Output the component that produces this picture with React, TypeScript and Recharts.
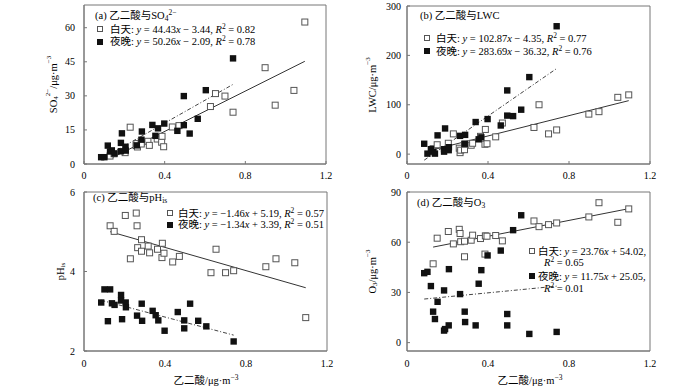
import React from 'react';
import { ScatterChart, Scatter, XAxis, YAxis, ReferenceLine, ReferenceArea } from 'recharts';

const FONT = '"Liberation Serif", "Times New Roman", "Noto Sans CJK SC", serif';

// 乙二酸 concentration (x), daytime and night-time samples
const dayX = [0.129, 0.149, 0.204, 0.229, 0.258, 0.262, 0.265, 0.284, 0.284, 0.317, 0.324, 0.363, 0.385, 0.387, 0.395, 0.438, 0.471, 0.627, 0.652, 0.699, 0.739, 0.898, 0.948, 1.041, 1.095];
const nightX = [0.085, 0.101, 0.118, 0.129, 0.138, 0.151, 0.183, 0.183, 0.188, 0.206, 0.207, 0.262, 0.285, 0.287, 0.339, 0.354, 0.367, 0.398, 0.463, 0.495, 0.495, 0.524, 0.564, 0.604, 0.739];

// (a) SO4 2-
const daySO4 = [3.5, 4.5, 5.0, 16.2, 8.1, 9.0, 7.5, 9.5, 8.8, 10.0, 8.2, 11.0, 9.6, 12.2, 7.6, 16.3, 16.9, 25.3, 31.0, 29.9, 22.8, 42.4, 25.9, 32.4, 62.5];
const nightSO4 = [3.0, 3.0, 8.1, 5.5, 6.0, 4.6, 9.3, 5.6, 13.5, 7.6, 5.9, 8.2, 10.7, 14.3, 17.2, 12.4, 15.7, 17.8, 14.6, 29.9, 17.1, 13.4, 19.9, 32.5, 46.5];
// (b) LWC
const dayLWC = [11, 19, 22, 41, 12, 3, 8, 9, 20, 18, 22, 36, 20, 50, 21, 35, 63, 54, 100, 41, 49, 81, 86, 115, 120];
const nightLWC = [21, 1, 10, 5, 1, 38, 10, 5, 52, 8, 14, 37, 21, 39, 65, 30, 34, 71, 58, 129, 78, 77, 90, 156, 259];
// (c) pHis
const dayPH = [5.15, 5.01, 5.41, 4.32, 5.47, 5.15, 4.6, 4.8, 4.51, 4.64, 4.47, 4.56, 4.35, 4.71, 4.46, 4.24, 4.38, 3.97, 4.56, 3.97, 4.02, 4.12, 4.32, 4.22, 2.84];
const nightPH = [3.22, 3.55, 2.75, 3.55, 3.2, 3.16, 3.41, 3.27, 2.8, 3.22, 3.1, 2.89, 3.19, 2.76, 3.01, 2.9, 2.77, 2.51, 2.98, 2.77, 2.57, 3.19, 2.76, 2.62, 2.24];
// (d) O3
const dayO3 = [47.1, 62.4, 66.4, 59.0, 67.7, 65.2, 60.3, 60.6, 51.3, 61.2, 64.2, 62.2, 52.9, 63.8, 63.6, 64.0, 60.8, 72.7, 69.3, 70.5, 71.5, 75.1, 83.6, 71.9, 79.9];
const nightO3 = [41.5, 42.3, 33.8, 18.5, 14.1, 24.4, 31.2, 7.2, 8.1, 10.3, 43.9, 29.0, 18.5, 12.3, 10.3, 35.2, 43.3, 52.1, 55.0, 17.1, 10.3, 67.2, 76.1, 5.2, 6.4];

// fitted lines [slope, intercept, R2] for day / night
const dayFits = [[44.43, -3.44, 0.82], [102.87, -4.35, 0.77], [-1.46, 5.19, 0.57], [23.76, 54.02, 0.65]];
const nightFits = [[50.26, -2.09, 0.78], [283.69, -36.32, 0.76], [-1.34, 3.39, 0.51], [11.75, 25.05, 0.01]];

const xTicks = [0, 0.4, 0.8, 1.2];
const yTicksA = [0, 15, 30, 45, 60];
const yTicksB = [0, 100, 200, 300];
const yTicksC = [2, 4, 6];
const yTicksD = [0, 30, 60, 90];

const toPoints = (xs: number[], ys: number[]) => xs.map((x, i) => ({ x, y: ys[i] }));

const fitSegment = (xs: number[], fit: number[]) => {
  const x0 = Math.min(...xs);
  const x1 = Math.max(...xs);
  return [
    { x: x0, y: fit[0] * x0 + fit[1] },
    { x: x1, y: fit[0] * x1 + fit[1] },
  ];
};

const fmtX = (v: number) => (v === 0 ? '0' : v.toFixed(1));

const OpenSquare = (p: any) => (
  <rect x={p.cx - 3} y={p.cy - 3} width={6} height={6} fill="#fff" stroke="#555" strokeWidth={1} />
);
const FilledSquare = (p: any) => (
  <rect x={p.cx - 3.2} y={p.cy - 3.2} width={6.4} height={6.4} fill="#111" />
);

const XTick = (p: any) => (
  <text x={p.x} y={p.y} dy="0.71em" textAnchor="middle" fontSize={10} fontFamily={FONT} fill="#000">
    {fmtX(Number(p.payload.value))}
  </text>
);
const YTick = (p: any) => (
  <text x={p.x} y={p.y} dy="0.355em" textAnchor="end" fontSize={10} fontFamily={FONT} fill="#000">
    {p.payload.value}
  </text>
);

const sub = (t: string) => (
  <span style={{ fontSize: 7.5, position: 'relative', top: 2.5 }}>{t}</span>
);
const sup = (t: string) => (
  <span style={{ fontSize: 7.5, position: 'relative', top: -4 }}>{t}</span>
);

const fmt = (n: number) => n.toFixed(2);
const eq = (fit: number[]) => {
  const slope = fit[0] < 0 ? '\u2212' + fmt(-fit[0]) : fmt(fit[0]);
  const sign = fit[1] < 0 ? '\u2212' : '+';
  return (
    <>
      <i>y</i> = {slope}<i>x</i> {sign} {fmt(Math.abs(fit[1]))}
    </>
  );
};
const r2 = (fit: number[]) => (
  <>
    <i>R</i>{sup('2')} = {fmt(fit[2])}
  </>
);

type PanelProps = {
  left: number;
  top: number;
  width: number;
  height: number;
  margin: { top: number; right: number; bottom: number; left: number };
  yDomain: [number, number];
  yTicks: number[];
  yGap: number;
  day: number[];
  night: number[];
  idx: number;
  yLabel: React.ReactNode;
  yLabelX: number;
  htmlXTicks?: boolean;
};

const Panel = (p: PanelProps) => {
  return (
    <div style={{ position: 'absolute', left: p.left, top: p.top, width: p.width, height: p.height, zIndex: 0 }}>
      <ScatterChart width={p.width} height={p.height} margin={p.margin}>
        <XAxis
          type="number"
          dataKey="x"
          domain={[0, 1.2]}
          ticks={xTicks}
          interval={0}
          allowDataOverflow
          height={20}
          tick={p.htmlXTicks ? false : XTick}
          tickSize={-3}
          tickMargin={11}
          tickLine={{ stroke: '#777' }}
          axisLine={{ stroke: '#777' }}
        />
        <YAxis
          type="number"
          dataKey="y"
          domain={p.yDomain}
          ticks={p.yTicks}
          interval={0}
          allowDataOverflow
          width={30}
          tickSize={-3}
          tickMargin={3 + p.yGap}
          tick={YTick}
          tickLine={{ stroke: '#777' }}
          axisLine={{ stroke: '#777' }}
          label={{
            content: (lp: any) => {
              const vb = lp.viewBox;
              const cy = vb.y + vb.height / 2;
              return (
                <text
                  x={p.yLabelX}
                  y={cy}
                  transform={`rotate(-90 ${p.yLabelX} ${cy})`}
                  textAnchor="middle"
                  dominantBaseline="central"
                  fontSize={10.5}
                  fontFamily={FONT}
                  fill="#000"
                >
                  {p.yLabel}
                </text>
              );
            },
          }}
        />
        <ReferenceArea x1={0} x2={1.2} y1={p.yDomain[0]} y2={p.yDomain[1]} fill="none" stroke="#777" strokeWidth={1} />
        <ReferenceLine segment={fitSegment(nightX, nightFits[p.idx])} stroke="#444" strokeWidth={1} strokeDasharray="4 2 1 2" />
        <ReferenceLine segment={fitSegment(dayX, dayFits[p.idx])} stroke="#333" strokeWidth={1} />
        <Scatter data={toPoints(dayX, p.day)} shape={OpenSquare} isAnimationActive={false} />
        <Scatter data={toPoints(nightX, p.night)} shape={FilledSquare} isAnimationActive={false} />
      </ScatterChart>
    </div>
  );
};

const textStyle: React.CSSProperties = {
  position: 'absolute',
  fontFamily: FONT,
  fontSize: 10.5,
  color: '#000',
  whiteSpace: 'nowrap',
  lineHeight: '11px',
  height: 11,
  zIndex: 2,
};

const Row = ({ x, cy, children, center, size }: { x: number; cy: number; children: React.ReactNode; center?: boolean; size?: number }) => (
  <div
    style={{
      ...textStyle,
      fontSize: size ?? 10.5,
      left: x,
      top: cy - 5.5,
      transform: center ? 'translateX(-50%)' : undefined,
    }}
  >
    {children}
  </div>
);

const Box = ({ x, cy, filled }: { x: number; cy: number; filled?: boolean }) => (
  <div
    style={{
      position: 'absolute',
      left: x - 3,
      top: cy - 3,
      width: 6,
      height: 6,
      zIndex: 2,
      boxSizing: 'border-box',
      border: filled ? 'none' : '1px solid #555',
      background: filled ? '#111' : '#fff',
    }}
  />
);

// x tick labels of the lower row, laid along the plot width of each panel
const BottomTicks = ({ x0, x1 }: { x0: number; x1: number }) => (
  <>
    {xTicks.map((v) => (
      <Row key={v} x={x0 + (v / 1.2) * (x1 - x0)} cy={363} center size={10}>
        {fmtX(v)}
      </Row>
    ))}
  </>
);

const App = () => {
  return (
    <div style={{ position: 'relative', width: 700, height: 387, background: '#fff', overflow: 'hidden' }}>
      <style>{'body{margin:0}'}</style>

      <Panel
        left={0} top={0} width={350} height={185}
        margin={{ top: 5, right: 24, bottom: 1, left: 54 }}
        yDomain={[0, 70]} yTicks={yTicksA} yGap={9}
        day={daySO4} night={nightSO4} idx={0}
        yLabelX={53}
        yLabel={<>SO<tspan fontSize={7} dy={3}>4</tspan><tspan fontSize={7} dy={-8}>2−</tspan><tspan dy={5}>/μg·m</tspan><tspan fontSize={7} dy={-4}>−3</tspan></>}
      />
      <Panel
        left={350} top={0} width={350} height={185}
        margin={{ top: 6, right: 50, bottom: 1, left: 27 }}
        yDomain={[-20, 300]} yTicks={yTicksB} yGap={6}
        day={dayLWC} night={nightLWC} idx={1}
        yLabelX={22}
        yLabel={<>LWC/μg·m<tspan fontSize={7} dy={-4}>−3</tspan></>}
      />
      <Panel
        left={0} top={185} width={350} height={187}
        margin={{ top: 7, right: 23, bottom: 1, left: 54 }}
        yDomain={[2, 6]} yTicks={yTicksC} yGap={9}
        day={dayPH} night={nightPH} idx={2}
        yLabelX={60}
        yLabel={<>pH<tspan fontSize={7} dy={3}>is</tspan></>}
        htmlXTicks
      />
      <Panel
        left={350} top={185} width={350} height={187}
        margin={{ top: 7, right: 50, bottom: 1, left: 27 }}
        yDomain={[-5, 90]} yTicks={yTicksD} yGap={6}
        day={dayO3} night={nightO3} idx={3}
        yLabelX={22}
        yLabel={<>O<tspan fontSize={7} dy={3}>3</tspan><tspan dy={-3}>/μg·m</tspan><tspan fontSize={7} dy={-4}>−3</tspan></>}
        htmlXTicks
      />

      {/* lower row x ticks and titles */}
      <BottomTicks x0={84} x1={327} />
      <BottomTicks x0={407} x1={650} />
      <Row x={206} cy={380} center>乙二酸/μg·m{sup('−3')}</Row>
      <Row x={530} cy={380} center>乙二酸/μg·m{sup('−3')}</Row>

      {/* (a) */}
      <Row x={95} cy={15}>(a) 乙二酸与SO{sub('4')}{sup('2−')}</Row>
      <Box x={100} cy={29} />
      <Row x={110} cy={29}>白天: {eq(dayFits[0])}, {r2(dayFits[0])}</Row>
      <Box x={100} cy={41.5} filled />
      <Row x={110} cy={41.5}>夜晚: {eq(nightFits[0])}, {r2(nightFits[0])}</Row>

      {/* (b) */}
      <Row x={420} cy={15}>(b) 乙二酸与LWC</Row>
      <Box x={427} cy={38} />
      <Row x={436} cy={38}>白天: {eq(dayFits[1])}, {r2(dayFits[1])}</Row>
      <Box x={427} cy={51} filled />
      <Row x={436} cy={51}>夜晚: {eq(nightFits[1])}, {r2(nightFits[1])}</Row>

      {/* (c) */}
      <Row x={93} cy={197}>(c) 乙二酸与pH{sub('is')}</Row>
      <Box x={170} cy={213} />
      <Row x={178} cy={213}>白天: {eq(dayFits[2])}, {r2(dayFits[2])}</Row>
      <Box x={170} cy={224.5} filled />
      <Row x={178} cy={224.5}>夜晚: {eq(nightFits[2])}, {r2(nightFits[2])}</Row>

      {/* (d) */}
      <Row x={417} cy={202}>(d) 乙二酸与O{sub('3')}</Row>
      <Box x={532} cy={251} />
      <Row x={538} cy={251}>白天: {eq(dayFits[3])},</Row>
      <Row x={544} cy={262.5}>{r2(dayFits[3])}</Row>
      <Box x={532} cy={276} filled />
      <Row x={538} cy={276}>夜晚: {eq(nightFits[3])},</Row>
      <Row x={544} cy={288}>{r2(nightFits[3])}</Row>
    </div>
  );
};

export default App;
